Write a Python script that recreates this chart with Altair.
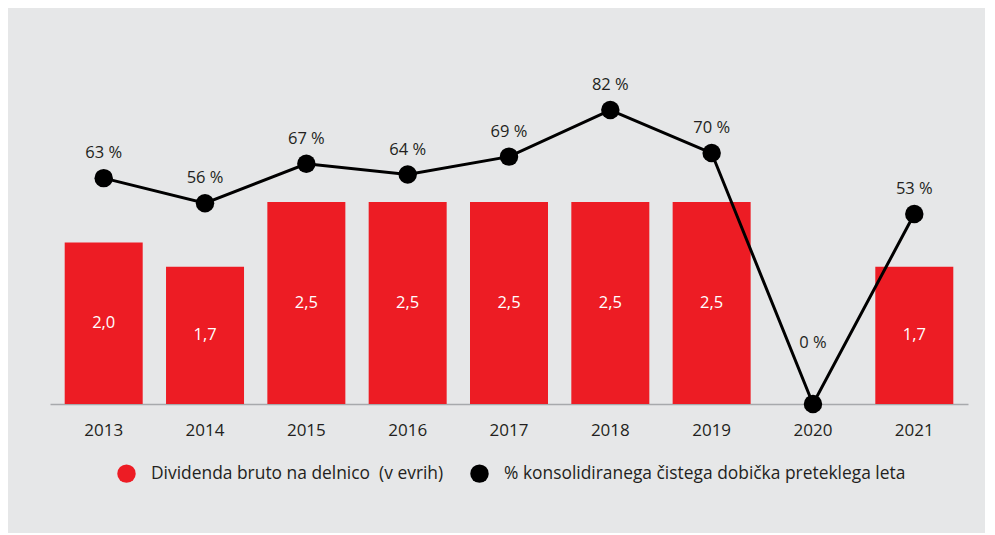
import altair as alt
import pandas as pd

years = ["2013", "2014", "2015", "2016", "2017", "2018", "2019", "2020", "2021"]
dividend = [2.0, 1.7, 2.5, 2.5, 2.5, 2.5, 2.5, 0.0, 1.7]
payout = [63, 56, 67, 64, 69, 82, 70, 0, 53]

S_BAR = "Dividenda bruto na delnico\u00a0\u00a0(v evrih)"
S_LINE = "% konsolidiranega čistega dobička preteklega leta"

RED = "#ED1C24"
BLACK = "#000000"
TXT = "#231F20"
BG = "#E6E7E8"
FONT = "Open Sans"

df = pd.DataFrame({"year": years, "dividend": dividend, "payout": payout})
df["s_bar"] = S_BAR
df["s_line"] = S_LINE
bars_df = df[df["dividend"] > 0]

x = alt.X("year:N", title=None, sort=years,
          scale=alt.Scale(paddingInner=0.23, paddingOuter=0.145),
          axis=alt.Axis(labelAngle=0, labelFontSize=17, labelColor=TXT, labelFont=FONT,
                        ticks=False, tickSize=0, labelPadding=18,
                        domainColor="#A7A9AC", domainWidth=1.5, grid=False))

cscale = alt.Scale(domain=[S_BAR, S_LINE], range=[RED, BLACK])
legend = alt.Legend(title=None, orient="none", direction="horizontal",
                    legendX=67, legendY=390, symbolType="circle",
                    symbolSize=340, symbolStrokeWidth=0,
                    labelFontSize=17.4, labelColor=TXT, labelFont=FONT,
                    labelOffset=15, columnPadding=26, labelLimit=700)

ybar_scale = alt.Scale(domain=[0, 4.084])
yline_scale = alt.Scale(domain=[0, 92.05])

base_bar = alt.Chart(bars_df)
bars = base_bar.mark_bar(size=78).encode(
    x=x, y=alt.Y("dividend:Q", scale=ybar_scale, axis=None),
    color=alt.Color("s_bar:N", scale=cscale, legend=legend))

bar_text = base_bar.transform_calculate(
    half="datum.dividend / 2",
    lab="replace(format(datum.dividend, '.1f'), '.', ',')"
).mark_text(color="white", fontSize=16.5, font=FONT, baseline="middle").encode(
    x=x, y=alt.Y("half:Q", scale=ybar_scale, axis=None),
    text="lab:N")

base_line = alt.Chart(df)
line = base_line.mark_line(strokeWidth=3).encode(
    x=x, y=alt.Y("payout:Q", scale=yline_scale, axis=None),
    color=alt.Color("s_line:N", scale=cscale, legend=None))

points = base_line.mark_point(filled=True, size=340, opacity=1).encode(
    x=x, y=alt.Y("payout:Q", scale=yline_scale, axis=None),
    color=alt.Color("s_line:N", scale=cscale, legend=None))

pct_lab = base_line.transform_calculate(lab="datum.payout + ' %'")
labels_main = pct_lab.transform_filter("datum.payout > 0").mark_text(
    fontSize=16.5, font=FONT, color=TXT, baseline="middle", dy=-25).encode(
    x=x, y=alt.Y("payout:Q", scale=yline_scale, axis=None), text="lab:N")
labels_zero = pct_lab.transform_filter("datum.payout == 0").mark_text(
    fontSize=16.5, font=FONT, color=TXT, baseline="middle", dy=-61).encode(
    x=x, y=alt.Y("payout:Q", scale=yline_scale, axis=None), text="lab:N")

chart = alt.layer(
    alt.layer(bars, bar_text),
    alt.layer(line, points, labels_main, labels_zero),
).resolve_scale(y="independent").properties(
    width=918, height=330,
    padding={"left": 42, "top": 66, "right": 17, "bottom": 129},
    autosize=alt.AutoSizeParams(type="none"),
    background=BG,
).configure_view(stroke=None)

chart.save("out.html", embed_options={"renderer": "svg", "actions": False})
